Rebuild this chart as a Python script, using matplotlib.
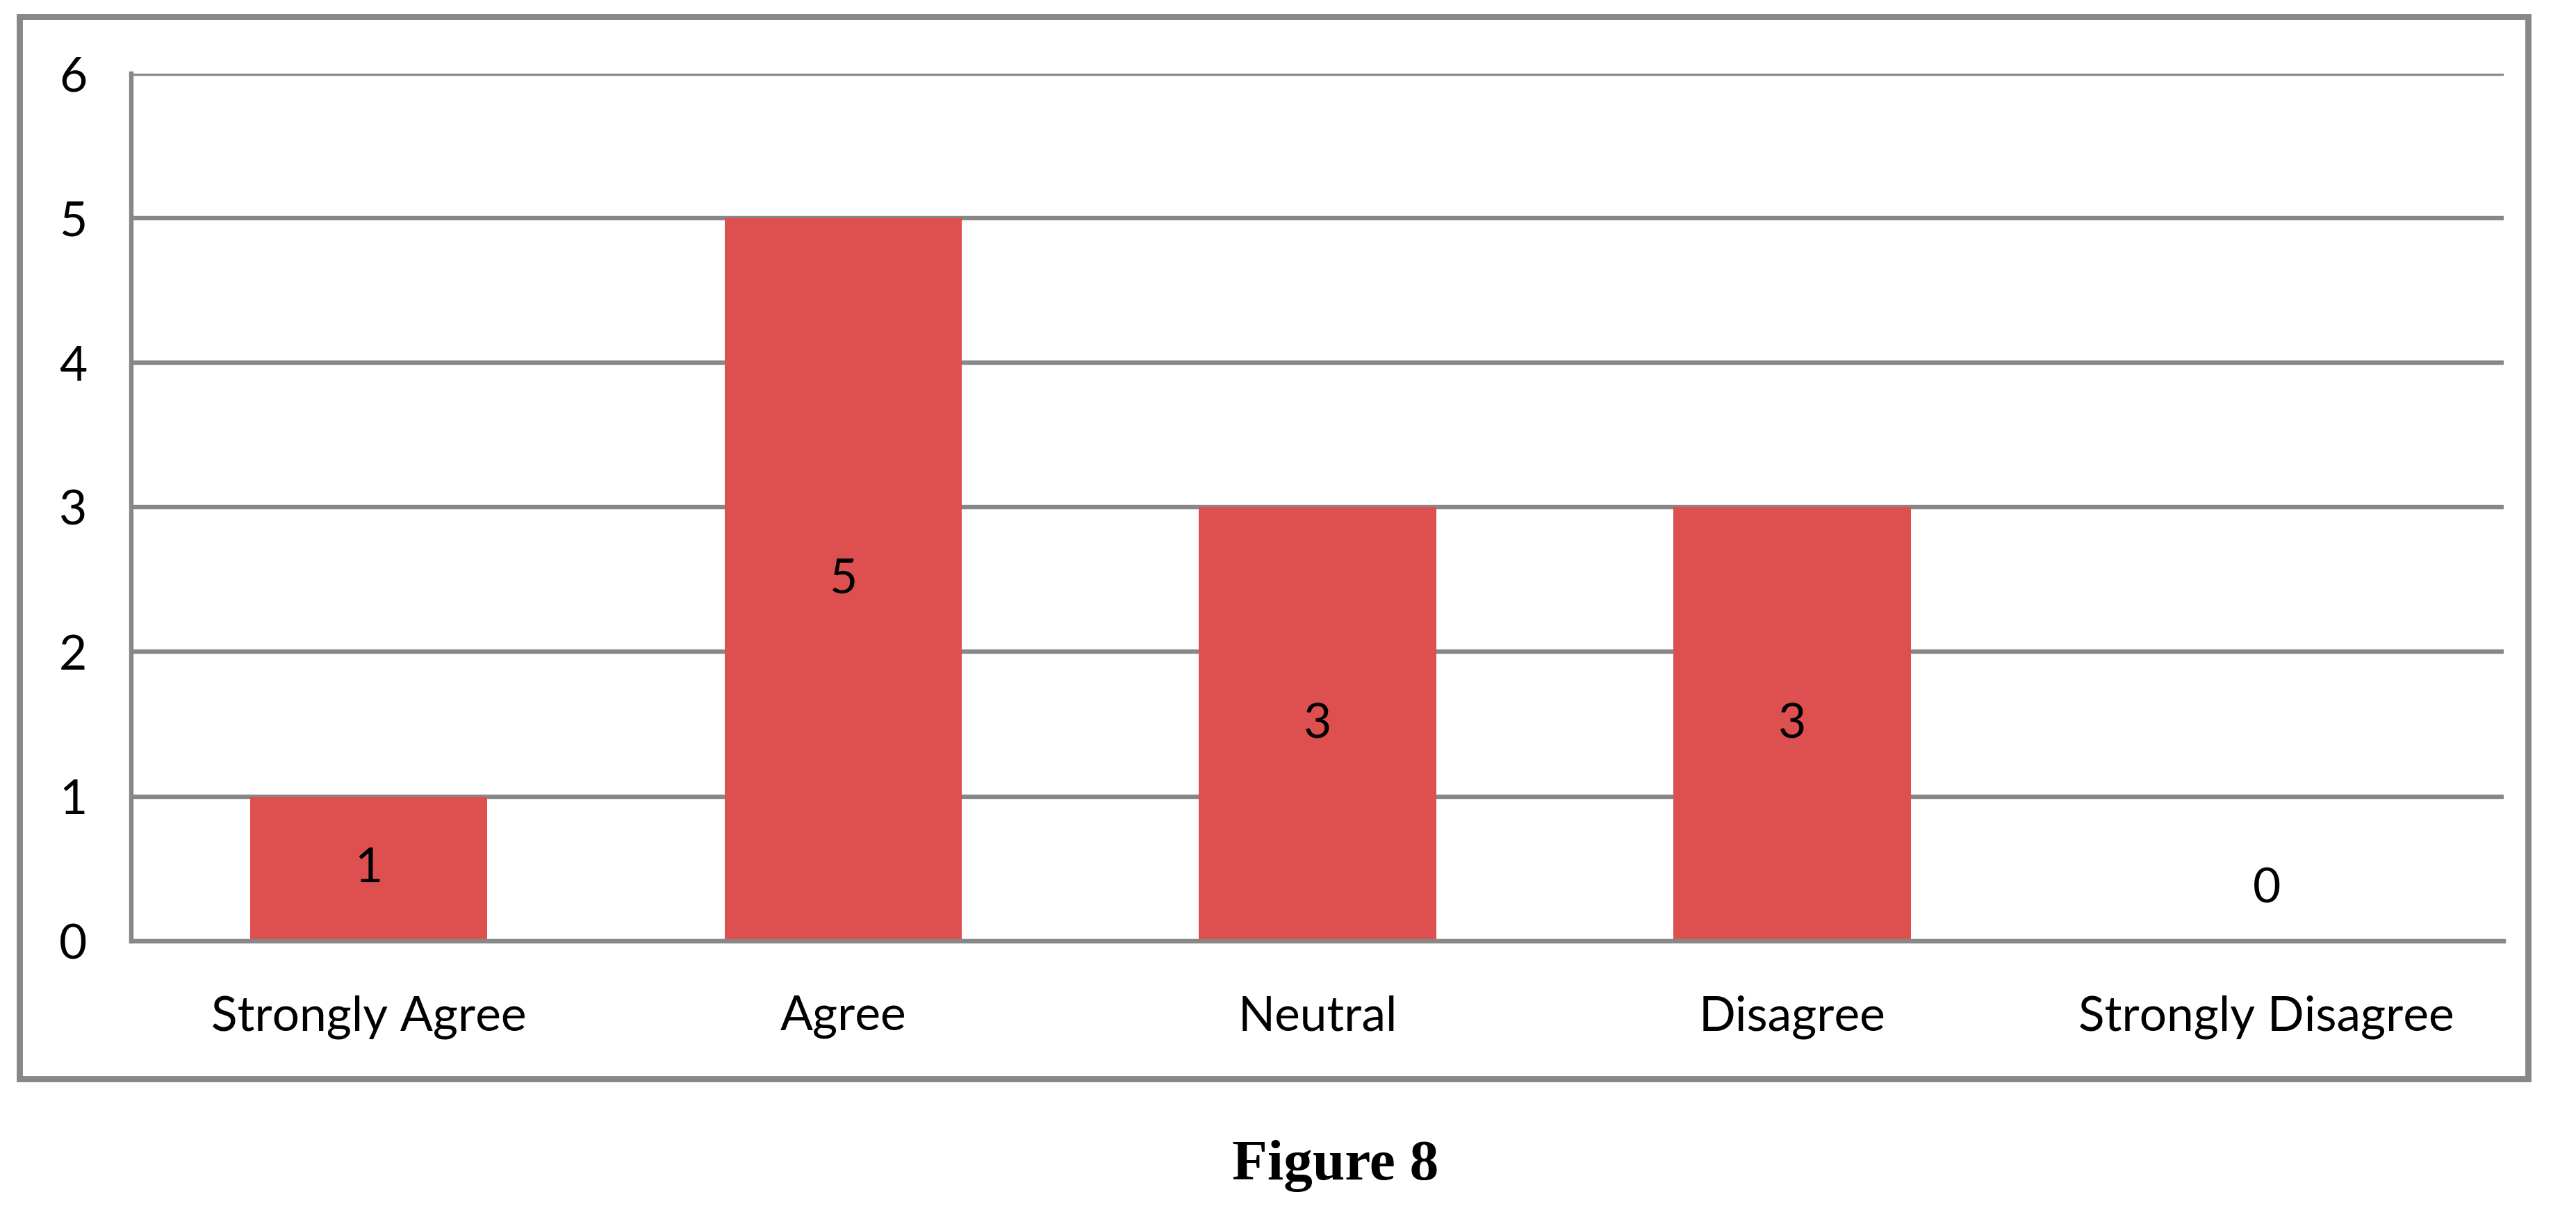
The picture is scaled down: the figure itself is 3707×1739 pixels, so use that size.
import matplotlib.pyplot as plt
from matplotlib.patches import Rectangle

categories = ["Strongly Agree", "Agree", "Neutral", "Disagree", "Strongly Disagree"]
counts = [1, 5, 3, 3, 0]
y_ticks = [0, 1, 2, 3, 4, 5, 6]

bar_color = "#DE5050"
grid_color = "#878787"

plt.rcParams['font.family'] = ['Lato', 'DejaVu Sans']

fig = plt.figure(figsize=(18.535, 8.695), dpi=200)

# outer frame round the chart
frame = Rectangle((0.0075, 0.107), 0.974, 0.879, transform=fig.transFigure,
                  fill=False, edgecolor=grid_color, linewidth=3.2)
fig.patches.append(frame)

ax = fig.add_axes([0.051, 0.221, 0.921, 0.718])
x = range(len(categories))
bars = ax.bar(x, counts, width=0.5, color=bar_color, zorder=3)

ax.set_xlim(-0.5, len(categories) - 0.5)
ax.set_ylim(0, 6)
ax.set_yticks(y_ticks)
ax.set_xticks(list(x))
ax.set_xticklabels(categories)
ax.tick_params(axis='both', length=0, labelsize=25)
ax.tick_params(axis='y', pad=23)
ax.tick_params(axis='x', pad=28)

ax.yaxis.grid(True, color=grid_color, linewidth=2.3, zorder=1)
for side in ['top', 'right']:
    ax.spines[side].set_visible(False)
for side in ['left', 'bottom']:
    ax.spines[side].set_color(grid_color)
    ax.spines[side].set_linewidth(2.3)
    ax.spines[side].set_zorder(4)

# value labels in the middle of each bar
for xi, v in zip(x, counts):
    if v > 0:
        ax.text(xi, v / 2, str(v), ha='center', va='center', fontsize=25, zorder=5)
    else:
        ax.annotate(str(v), (xi, v), xytext=(0, 27), textcoords='offset points',
                    ha='center', va='center', fontsize=25)

fig.text(0.5185, 0.035, "Figure 8", ha='center', va='center', fontsize=30,
         fontweight='bold', family=['Liberation Serif', 'DejaVu Serif'])

fig.savefig("out.png", dpi=200, facecolor='white')
